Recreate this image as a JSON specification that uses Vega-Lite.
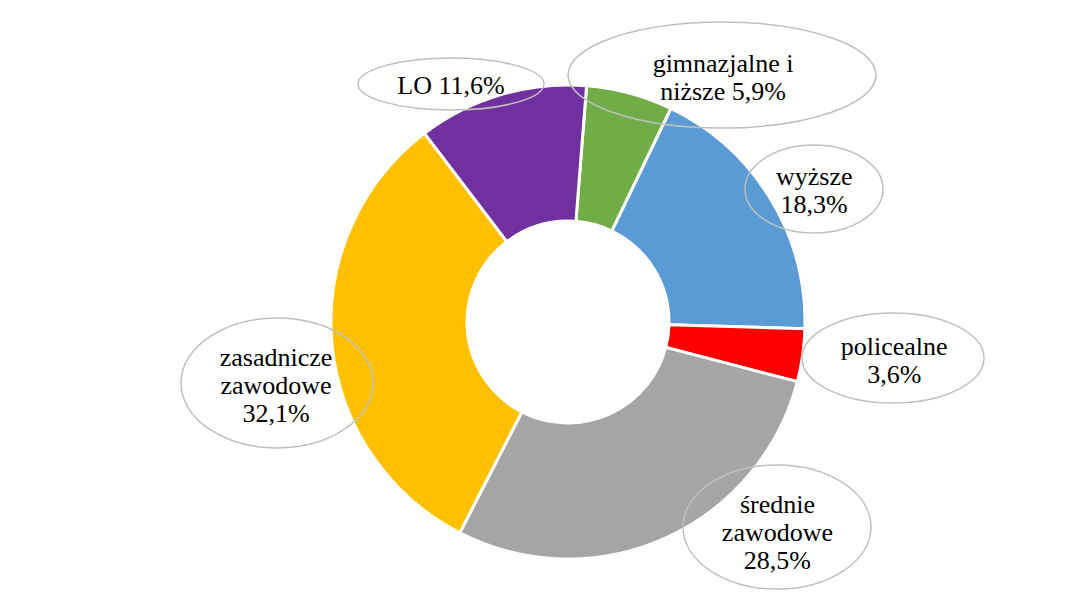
{
  "$schema": "https://vega.github.io/schema/vega-lite/v6.json",
  "width": 1020,
  "height": 540,
  "autosize": {"type": "none"},
  "padding": {"left": 58, "top": 52, "right": 0, "bottom": 0},
  "background": "white",
  "config": {
    "view": {"stroke": null},
    "text": {"font": "Liberation Serif", "fontSize": 26, "lineHeight": 28, "lineBreak": "\n", "color": "#000000", "align": "center", "baseline": "middle"},
    "point": {"size": 4, "filled": false, "stroke": "#bfbfbf", "strokeWidth": 1.5, "opacity": 1}
  },
  "data": {"values": [
    {"nr": 1, "kategoria": "gimnazjalne i niższe", "udzial": 5.9, "etykieta": "gimnazjalne  i\nniższe 5,9%"},
    {"nr": 2, "kategoria": "wyższe", "udzial": 18.3, "etykieta": "wyższe\n18,3%"},
    {"nr": 3, "kategoria": "policealne", "udzial": 3.6, "etykieta": "policealne\n3,6%"},
    {"nr": 4, "kategoria": "średnie zawodowe", "udzial": 28.5, "etykieta": "średnie\nzawodowe\n28,5%"},
    {"nr": 5, "kategoria": "zasadnicze zawodowe", "udzial": 32.1, "etykieta": "zasadnicze\nzawodowe\n32,1%"},
    {"nr": 6, "kategoria": "LO", "udzial": 11.6, "etykieta": "LO 11,6%"}
  ]},
  "encoding": {
    "theta": {"field": "udzial", "type": "quantitative", "stack": true, "scale": {"domain": [0, 100], "range": [0.0785, 6.3617]}},
    "order": {"field": "nr", "type": "quantitative"},
    "detail": {"field": "kategoria", "type": "nominal"}
  },
  "layer": [
    {
      "mark": {"type": "arc", "outerRadius": 237, "innerRadius": 101, "stroke": "white", "strokeWidth": 3},
      "encoding": {
        "color": {"field": "kategoria", "type": "nominal", "legend": null,
          "scale": {"domain": ["gimnazjalne i niższe", "wyższe", "policealne", "średnie zawodowe", "zasadnicze zawodowe", "LO"],
                    "range": ["#70AD47", "#5B9BD5", "#FF0000", "#A5A5A5", "#FFC000", "#7030A0"]}}
      }
    },
    {
      "mark": {"type": "point"},
      "encoding": {
        "shape": {"field": "kategoria", "type": "nominal", "legend": null,
          "scale": {"domain": ["gimnazjalne i niższe", "wyższe", "policealne", "średnie zawodowe", "zasadnicze zawodowe", "LO"],
                    "range": [
                      "M 0 -247 A 154 53 0 1 0 308 -247 A 154 53 0 1 0 0 -247 Z",
                      "M 177 -133 A 69 44 0 1 0 315 -133 A 69 44 0 1 0 177 -133 Z",
                      "M 234 36 A 91 45 0 1 0 416 36 A 91 45 0 1 0 234 36 Z",
                      "M 115 205 A 94 62 0 1 0 303 205 A 94 62 0 1 0 115 205 Z",
                      "M -387 61 A 96 65 0 1 0 -195 61 A 96 65 0 1 0 -387 61 Z",
                      "M -210 -238 A 93 26 0 1 0 -24 -238 A 93 26 0 1 0 -210 -238 Z"
                    ]}}
      }
    },
    {"mark": {"type": "text", "radius": 280, "dx": 82, "dy": 12},
     "encoding": {"text": {"condition": {"test": "datum.kategoria === 'gimnazjalne i niższe'", "field": "etykieta", "type": "nominal"}, "value": ""}}},
    {"mark": {"type": "text", "radius": 280, "dx": 7, "dy": 1},
     "encoding": {"text": {"condition": {"test": "datum.kategoria === 'wyższe'", "field": "etykieta", "type": "nominal"}, "value": ""}}},
    {"mark": {"type": "text", "radius": 280, "dx": 49, "dy": -14},
     "encoding": {"text": {"condition": {"test": "datum.kategoria === 'policealne'", "field": "etykieta", "type": "nominal"}, "value": ""}}},
    {"mark": {"type": "text", "radius": 280, "dx": 95, "dy": -73},
     "encoding": {"text": {"condition": {"test": "datum.kategoria === 'średnie zawodowe'", "field": "etykieta", "type": "nominal"}, "value": ""}}},
    {"mark": {"type": "text", "radius": 280, "dx": -13, "dy": 11},
     "encoding": {"text": {"condition": {"test": "datum.kategoria === 'zasadnicze zawodowe'", "field": "etykieta", "type": "nominal"}, "value": ""}}},
    {"mark": {"type": "text", "radius": 280, "dx": -38, "dy": 33},
     "encoding": {"text": {"condition": {"test": "datum.kategoria === 'LO'", "field": "etykieta", "type": "nominal"}, "value": ""}}}
  ]
}
